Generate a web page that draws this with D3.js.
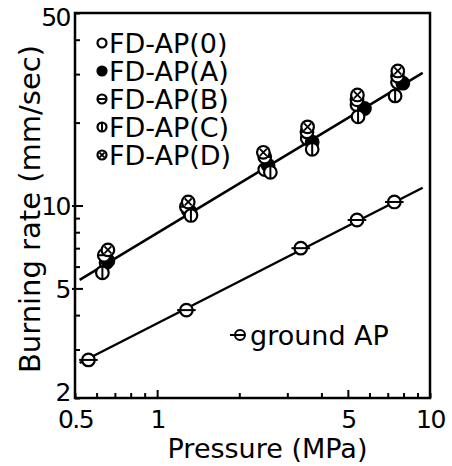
<!DOCTYPE html>
<html>
<head>
<meta charset="utf-8">
<script src="https://cdn.jsdelivr.net/npm/d3@7"></script>
<style>
body{margin:0;background:#fff}
text{font-family:"DejaVu Sans",sans-serif;fill:#000}
</style>
</head>
<body>
<div id="chart"></div>
<script>
// data
const seriesNames=["FD-AP(0)","FD-AP(A)","FD-AP(B)","FD-AP(C)","FD-AP(D)"];
const seriesMarks=["open","filled","hbar","vbar","cross"];
const pressO=[0.65,1.30,2.48,3.55,5.40,7.60];
const rateO=[6.2,9.6,13.5,17.5,23.2,28.0];
const pressA=[0.66,1.32,2.55,3.70,5.75,7.95];
const rateA=[6.3,9.5,14.0,17.0,22.5,27.8];
const pressB=[0.64,1.28,2.48,3.54,5.40,7.60];
const rateB=[6.6,9.9,15.0,18.5,24.2,29.5];
const pressC=[0.63,1.33,2.60,3.70,5.45,7.45];
const rateC=[5.7,9.2,13.2,16.0,21.0,25.0];
const pressD=[0.66,1.30,2.45,3.56,5.42,7.62];
const rateD=[6.9,10.3,15.6,19.3,25.2,30.8];
const groundPress=[0.56,1.28,3.36,5.40,7.40];
const groundRate=[2.75,4.17,7.0,8.86,10.3];
// fitted lines (end points)
const fitPress=[0.52,9.4];
const fitRateFD=[5.37,30.3];
const fitRateGround=[2.68,11.6];

const xTicks=[0.5,0.6,0.7,0.8,0.9,1,2,3,4,5,6,7,8,9,10];
const xLabels=[0.5,1,5,10];
const yTicks=[2,3,4,5,6,7,8,9,10,20,30,40,50];
const yLabels=[2,5,10,50];

const W=452,H=466;
const margin={top:13,right:22,bottom:68,left:75};
const w=W-margin.left-margin.right, h=H-margin.top-margin.bottom;

const svg=d3.select("#chart").append("svg").attr("width",W).attr("height",H);
const g=svg.append("g").attr("transform",`translate(${margin.left},${margin.top})`);

const x=d3.scaleLog().domain([0.5,10]).range([0,w]);
const y=d3.scaleLog().domain([2,50]).range([h,0]);

// axes
const xAxis=d3.axisBottom(x).tickValues(xTicks).tickSize(-5).tickPadding(12)
  .tickFormat(d=>xLabels.includes(d)?String(d):"");
const yAxis=d3.axisLeft(y).tickValues(yTicks).tickSize(-5).tickPadding(5)
  .tickFormat(d=>yLabels.includes(d)?String(d):"");

const gx=g.append("g").attr("transform",`translate(0,${h})`).call(xAxis);
const gy=g.append("g").call(yAxis);
[gx,gy].forEach(a=>{
  a.select(".domain").remove();
  a.selectAll("line").attr("stroke","#000").attr("stroke-width",2);
  a.selectAll("text").style("font-size","25px").style("letter-spacing","-1.5px").attr("fill","#000");
});
gx.selectAll(".tick").filter(d=>d===1||d===5).select("line").attr("y2",-8);
gy.selectAll(".tick").filter(d=>d===5||d===10).select("line").attr("x1",-3).attr("x2",8);
gy.selectAll("text").attr("dy","0.36em");
gy.selectAll(".tick").filter(d=>d===2).select("text").attr("dy","0.1em");
gy.selectAll(".tick").filter(d=>d===50).select("text").attr("dy","0.5em");

// frame
g.append("rect").attr("width",w).attr("height",h)
  .attr("fill","none").attr("stroke","#000").attr("stroke-width",2.5);

// fit lines
const line=d3.line().x(d=>x(d[0])).y(d=>y(d[1]));
g.append("path").datum(d3.zip(fitPress,fitRateFD)).attr("d",line)
  .attr("fill","none").attr("stroke","#000").attr("stroke-width",2.5);
g.append("path").datum(d3.zip(fitPress,fitRateGround)).attr("d",line)
  .attr("fill","none").attr("stroke","#000").attr("stroke-width",2.5);

function marker(sel,type,r){
  sel.append("circle").attr("r",r)
    .attr("fill",type==="filled"?"#000":"#fff")
    .attr("stroke","#000").attr("stroke-width",2.2);
  if(type==="hbar"||type==="ground")
    sel.append("line").attr("x1",type==="ground"?-r-3:-r).attr("x2",type==="ground"?r+3:r)
      .attr("stroke","#000").attr("stroke-width",2);
  if(type==="vbar")
    sel.append("line").attr("y1",-r).attr("y2",r).attr("stroke","#000").attr("stroke-width",2);
  if(type==="cross"){
    const k=r*0.55;
    sel.append("path").attr("d",`M${-k},${-k}L${k},${k}M${-k},${k}L${k},${-k}`)
      .attr("stroke","#000").attr("stroke-width",1.8);
  }
}

const allPress=[pressO,pressA,pressB,pressC,pressD];
const allRate=[rateO,rateA,rateB,rateC,rateD];
seriesNames.forEach((name,i)=>{
  const pts=d3.zip(allPress[i],allRate[i]);
  g.append("g").selectAll("g").data(pts).join("g")
    .attr("transform",d=>`translate(${x(d[0])},${y(d[1])})`)
    .each(function(){marker(d3.select(this),seriesMarks[i],6.3);});
});
g.append("g").selectAll("g").data(d3.zip(groundPress,groundRate)).join("g")
  .attr("transform",d=>`translate(${x(d[0])},${y(d[1])})`)
  .each(function(){marker(d3.select(this),"ground",6.3);});

// legend
const leg=g.append("g").attr("transform","translate(27,30)");
seriesNames.forEach((name,i)=>{
  const row=leg.append("g").attr("transform",`translate(0,${i*28})`);
  marker(row,seriesMarks[i],4.5);
  row.append("text").attr("x",7).attr("y",10).style("font-size","27px").text(name);
});
const leg2=g.append("g").attr("transform","translate(165,322)");
leg2.append("line").attr("x1",-10).attr("x2",5).attr("stroke","#000").attr("stroke-width",2);
leg2.append("circle").attr("r",5).attr("fill","#fff").attr("stroke","#000").attr("stroke-width",2);
leg2.append("line").attr("x1",-5).attr("x2",5).attr("stroke","#000").attr("stroke-width",2);
leg2.append("text").attr("x",10).attr("y",10).style("font-size","27px").text("ground AP");

// axis titles
svg.append("text").attr("x",margin.left+w/2+15).attr("y",458)
  .attr("text-anchor","middle").style("font-size","27px").text("Pressure (MPa)");
svg.append("text").attr("transform",`translate(40,${(30+388)/2}) rotate(-90)`)
  .attr("text-anchor","middle").style("font-size","29px").text("Burning rate (mm/sec)");
</script>
</body>
</html>
